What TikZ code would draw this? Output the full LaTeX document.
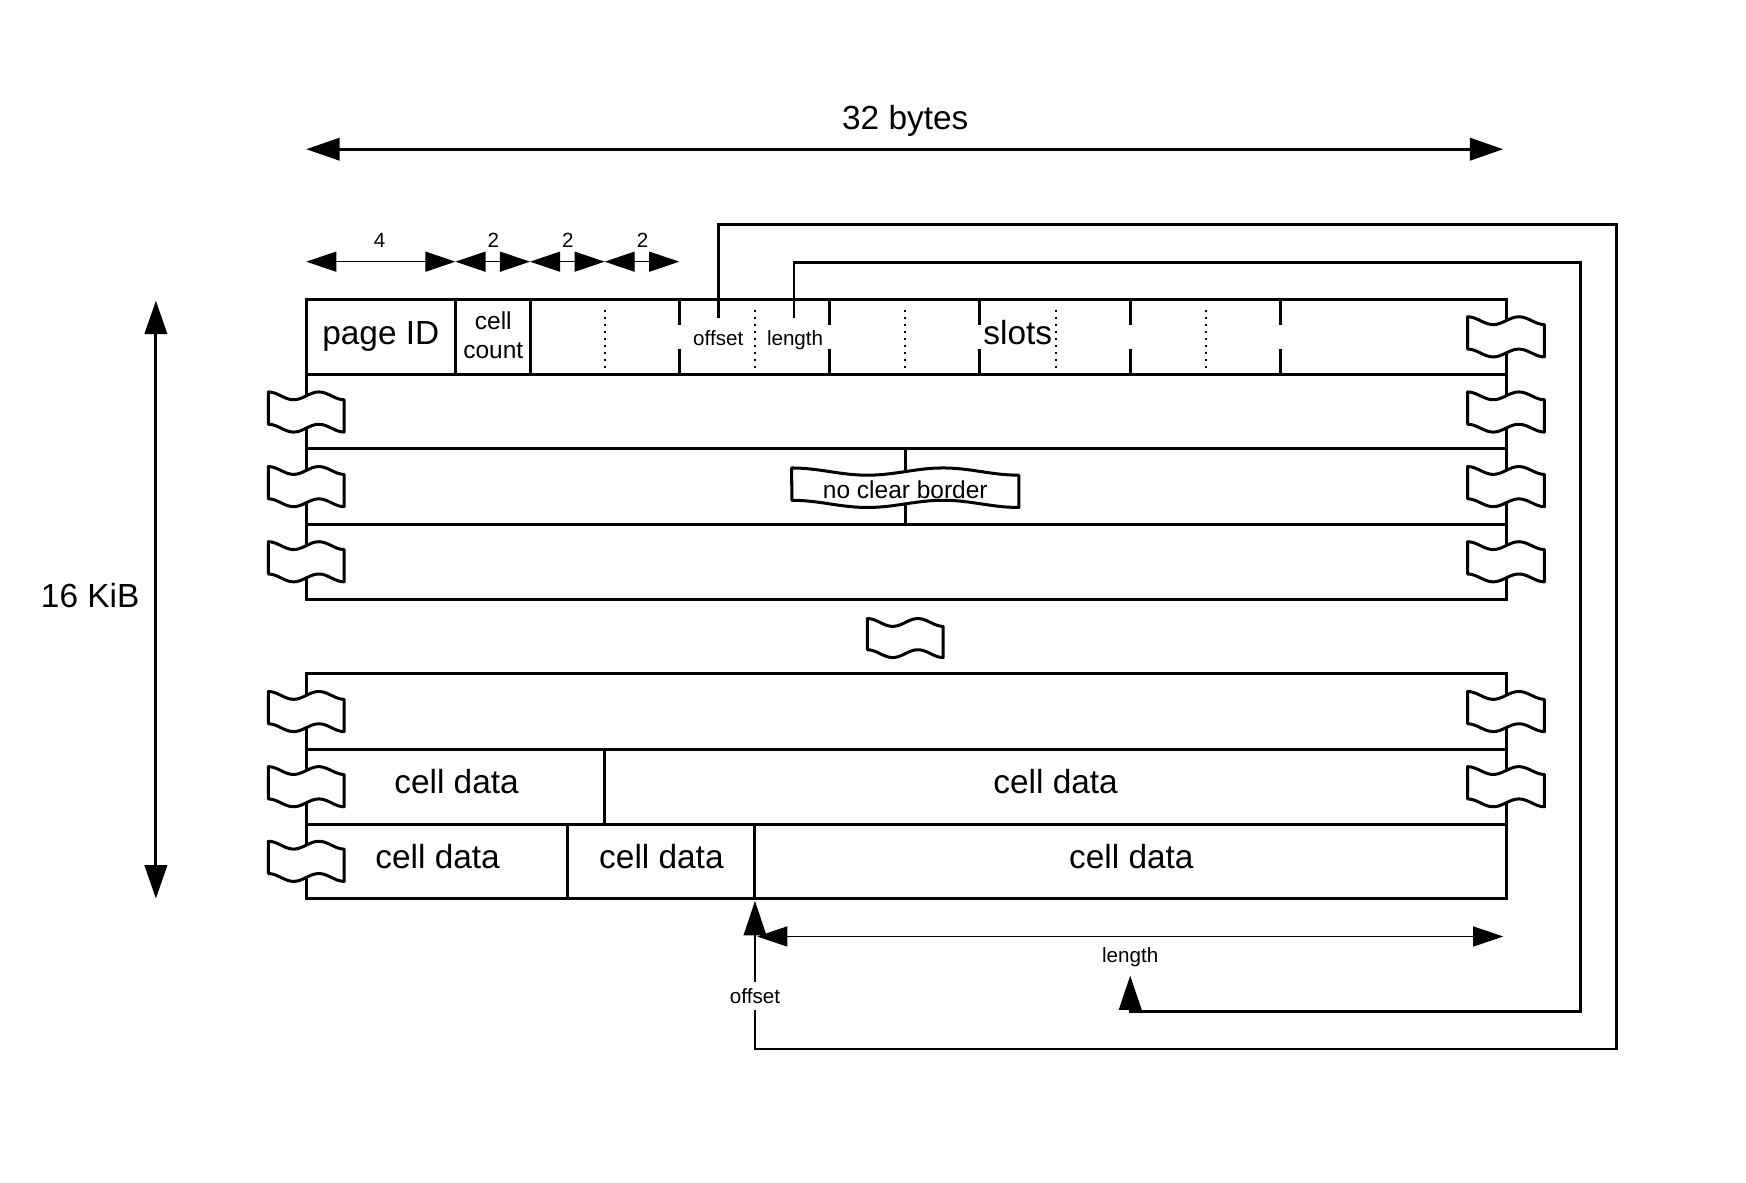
\documentclass[tikz,border=0pt]{standalone}
\usepackage{fontspec}
\setmainfont{Liberation Sans}
\usetikzlibrary{arrows.meta}
% #1 cx, #2 cy, #3 width, #4 side height, #5 wave amplitude
\newcommand\waveflag[5]{%
  \filldraw[flagline]
    plot[domain=0:1,samples=41] ({#1-#3/2+#3*\x},{#2-(#4+#5)/2+#5/2*(1-cos(540*\x))})
    -- plot[domain=1:0,samples=41] ({#1-#3/2+#3*\x},{#2-(#4+#5)/2+#4+#5/2*(1-cos(540*\x))})
    -- cycle;}
\begin{document}
\begin{tikzpicture}[x=1pt,y=-1pt,
  boxline/.style={line width=2.7pt},
  dotline/.style={line width=1.8pt, dash pattern=on 1.8pt off 4.5pt},
  linkline/.style={line width=2.6pt, -{Triangle[length=31pt,width=20pt]}},
  bigarrow/.style={line width=2.7pt, {Triangle[length=30pt,width=20pt]}-{Triangle[length=30pt,width=20pt]}},
  thinarrow/.style={line width=1pt, {Triangle[length=27pt,width=18pt]}-{Triangle[length=27pt,width=18pt]}},
  flagline/.style={line width=2.7pt, fill=white, line join=round},
  bigtext/.style={font=\fontsize{30}{36}\selectfont, inner sep=0pt, anchor=base},
  midtext/.style={font=\fontsize{22}{26}\selectfont, inner sep=0pt, anchor=base},
  smalltext/.style={font=\fontsize{18.5}{22}\selectfont, inner sep=0pt, anchor=base}]
\useasboundingbox (0,0) rectangle (1568,1062);

% ---------- upper block ----------
\draw[boxline] (275,269) rectangle (1353,538);
\foreach \yy in {336,403,471} {\draw[boxline] (275,\yy) -- (1353,\yy);}
\draw[boxline] (409,269) -- (409,336);
\draw[boxline] (476,269) -- (476,336);
\foreach \xx in {610,745,880,1015,1150} {
  \draw[boxline] (\xx,269) -- (\xx,292);
  \draw[boxline] (\xx,313) -- (\xx,336);
}
\foreach \xx in {543,678,813,948,1083} {\draw[dotline] (\xx,278) -- (\xx,336);}
\draw[boxline] (813,403) -- (813,471);

% ---------- lower block ----------
\draw[boxline] (275,605) rectangle (1353,807);
\foreach \yy in {673,740} {\draw[boxline] (275,\yy) -- (1353,\yy);}
\draw[boxline] (543,673) -- (543,740);
\draw[boxline] (510,740) -- (510,807);
\draw[boxline] (678,740) -- (678,807);

% ---------- wave flags ----------
\foreach \yy in {370,437,504.5,639,706.5,773.5} {\waveflag{275}{\yy}{68}{29}{7}}
\foreach \yy in {302.5,370,437,504.5,639,706.5} {\waveflag{1352.5}{\yy}{69}{29}{7}}
\waveflag{813}{573}{68}{28}{7}
\waveflag{813}{438}{204}{29}{6.5}

% ---------- dimension arrows ----------
\coordinate (topL) at (275,134);
\coordinate (topR) at (1350,134);
\draw[bigarrow] (topL) -- (topR);
\node[bigtext] (lbl32) at (813,116) {32 bytes};

\coordinate (vT) at (140,270);
\coordinate (vB) at (140,807);
\draw[bigarrow] (vT) -- (vB);
\node[bigtext] (lbl16) at (81,546) {16 KiB};

\coordinate (b0) at (275,235);
\coordinate (b1) at (409,235);
\coordinate (b2) at (476,235);
\coordinate (b3) at (543,235);
\coordinate (b4) at (610,235);
\draw[thinarrow] (b0) -- (b1);
\draw[thinarrow] (b1) -- (b2);
\draw[thinarrow] (b2) -- (b3);
\draw[thinarrow] (b3) -- (b4);
\node[smalltext] (w4) at (341,222) {4};
\node[smalltext] (w2a) at (443,222) {2};
\node[smalltext] (w2b) at (510,222) {2};
\node[smalltext] (w2c) at (577,222) {2};

% ---------- links ----------
\coordinate (offS) at (645,286);
\coordinate (offC1) at (1452,202);
\coordinate (offC2) at (678,942);
\coordinate (offE) at (678,809);
\draw[linkline] (offS) |- (offC1) |- (offC2) -- (offE);
\node[smalltext, fill=white, inner xsep=1pt, inner ysep=6pt] (offLbl) at (678,901) {offset};

\coordinate (lenS) at (713,286);
\coordinate (lenC1) at (1419,236);
\coordinate (lenC2) at (1015,908);
\coordinate (lenE) at (1015,876);
\draw[linkline] (lenS) |- (lenC1) |- (lenC2) -- (lenE);

\coordinate (lhL) at (680,841);
\coordinate (lhR) at (1350,841);
\draw[thinarrow] (lhL) -- (lhR);
\node[smalltext] (lenLbl) at (1015,864) {length};

% ---------- texts ----------
\node[bigtext] (pageid) at (342,309) {page ID};
\node[midtext] (cellA) at (443,296) {cell};
\node[midtext] (cellB) at (443,322) {count};
\node[smalltext] (hOff) at (645,310) {offset};
\node[smalltext] (hLen) at (714,310) {length};
\node[bigtext] (slots) at (914,309) {slots};
\node[midtext] (ncb) at (813,448) {no clear border};

\node[bigtext] (cd1) at (410,713) {cell data};
\node[bigtext] (cd2) at (948,713) {cell data};
\node[bigtext] (cd3) at (393,780) {cell data};
\node[bigtext] (cd4) at (594,780) {cell data};
\node[bigtext] (cd5) at (1016,780) {cell data};
\end{tikzpicture}
\end{document}
